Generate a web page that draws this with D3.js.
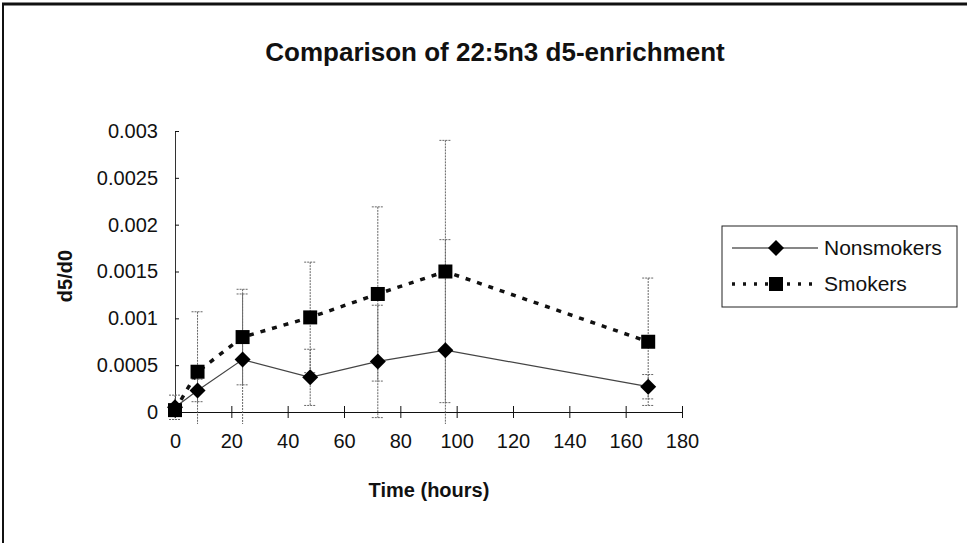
<!DOCTYPE html>
<html>
<head>
<meta charset="utf-8">
<script src="https://cdn.jsdelivr.net/npm/d3@7"></script>
<style>
  body { margin: 0; background: #fff; }
  svg text { font-family: "Liberation Sans", Arial, sans-serif; fill: #111; }
</style>
</head>
<body>
<svg width="967" height="543"></svg>
<script>
// data
const hours = [0, 8, 24, 48, 72, 96, 168];
const nonsmokers = [0.00005, 0.00023, 0.00056, 0.00037, 0.00054, 0.00066, 0.00027];
const nonsmokersErr = [0.00013, 0.00012, 0.0007, 0.0003, 0.0006, 0.00118, 0.00013];
const smokers = [0.00002, 0.00043, 0.0008, 0.00101, 0.00126, 0.0015, 0.00075];
const smokersErr = [0.00003, 0.00064, 0.00051, 0.00059, 0.00093, 0.0014, 0.00068];
const xTicks = [0, 20, 40, 60, 80, 100, 120, 140, 160, 180];
const yTicks = [0, 0.0005, 0.001, 0.0015, 0.002, 0.0025, 0.003];

const svg = d3.select("svg");

// frame of the scanned chart (top and left edges only)
svg.append("line").attr("x1", 2).attr("x2", 967).attr("y1", 4).attr("y2", 4)
    .attr("stroke", "#111").attr("stroke-width", 3);
svg.append("line").attr("x1", 3).attr("x2", 3).attr("y1", 3).attr("y2", 543)
    .attr("stroke", "#111").attr("stroke-width", 2);

const xScale = d3.scaleLinear().domain([0, 180]).range([175, 682]);
const yScale = d3.scaleLinear().domain([0, 0.003]).range([412, 131]);

// x axis, ticks crossing the line
const xAxis = svg.append("g")
    .attr("transform", `translate(0, ${yScale(0)})`)
    .call(d3.axisBottom(xScale).tickValues(xTicks).tickSize(6).tickSizeOuter(0).tickPadding(16));
xAxis.selectAll(".tick line").attr("y1", -6).attr("stroke", "#111");
xAxis.select(".domain").attr("stroke", "#111");
xAxis.selectAll("text").attr("font-size", 20).attr("fill", "#111");

const yAxis = svg.append("g")
    .attr("transform", `translate(${xScale(0)}, 0)`)
    .call(d3.axisLeft(yScale).tickValues(yTicks).tickSize(7).tickSizeOuter(0).tickPadding(10)
        .tickFormat(d => d === 0 ? "0" : String(+d.toFixed(4))));
yAxis.selectAll(".tick line").attr("x2", 4).attr("stroke", "#111");
yAxis.select(".domain").attr("stroke", "#333");
yAxis.selectAll("text").attr("font-size", 20).attr("fill", "#111");

// error bars, cut a little below the x axis
const series = [
    { name: "Nonsmokers", values: nonsmokers, err: nonsmokersErr },
    { name: "Smokers", values: smokers, err: smokersErr }
];
const floorY = yScale(0) + 12;

series.forEach(s => {
    const bars = svg.append("g").attr("stroke", "#666").attr("stroke-width", 1);
    hours.forEach((h, i) => {
        const x = xScale(h);
        const top = yScale(s.values[i] + s.err[i]);
        const bottomRaw = yScale(s.values[i] - s.err[i]);
        const bottom = Math.min(bottomRaw, floorY);
        bars.append("line").attr("x1", x).attr("x2", x).attr("y1", top).attr("y2", bottom)
            .attr("stroke-dasharray", "2,1");
        bars.append("line").attr("x1", x - 6).attr("x2", x + 6).attr("y1", top).attr("y2", top)
            .attr("stroke-dasharray", "2,1");
        if (bottomRaw <= floorY) {
            bars.append("line").attr("x1", x - 6).attr("x2", x + 6).attr("y1", bottom).attr("y2", bottom)
                .attr("stroke-dasharray", "2,1");
        }
    });
});

const line = d3.line().x((d, i) => xScale(hours[i])).y(d => yScale(d));

svg.append("path").datum(nonsmokers)
    .attr("d", line).attr("fill", "none").attr("stroke", "#444").attr("stroke-width", 1.2);

svg.append("path").datum(smokers)
    .attr("d", line).attr("fill", "none").attr("stroke", "#111")
    .attr("stroke-width", 3.5).attr("stroke-dasharray", "5,7");

const diamond = r => `M0,${-r}L${r},0L0,${r}L${-r},0Z`;

svg.append("g").selectAll("path")
    .data(nonsmokers)
    .enter()
    .append("path")
    .attr("d", diamond(8))
    .attr("transform", (d, i) => `translate(${xScale(hours[i])}, ${yScale(d)})`)
    .attr("fill", "#000");

svg.append("g").selectAll("rect")
    .data(smokers)
    .enter()
    .append("rect")
    .attr("x", (d, i) => xScale(hours[i]) - 7)
    .attr("y", d => yScale(d) - 7)
    .attr("width", 14)
    .attr("height", 14)
    .attr("fill", "#000");

// titles
svg.append("text")
    .attr("x", 495).attr("y", 61)
    .attr("text-anchor", "middle")
    .attr("font-size", 26).attr("font-weight", "bold")
    .text("Comparison of 22:5n3 d5-enrichment");

svg.append("text")
    .attr("x", 429).attr("y", 497)
    .attr("text-anchor", "middle")
    .attr("font-size", 20).attr("font-weight", "bold")
    .text("Time (hours)");

svg.append("text")
    .attr("transform", "translate(72, 276) rotate(-90)")
    .attr("text-anchor", "middle")
    .attr("font-size", 20).attr("font-weight", "bold")
    .text("d5/d0");

// legend
const legend = svg.append("g").attr("transform", "translate(722, 226)");
legend.append("rect").attr("width", 235).attr("height", 81)
    .attr("fill", "#fff").attr("stroke", "#222").attr("stroke-width", 1);

const legendRows = legend.selectAll("g")
    .data(series)
    .enter()
    .append("g")
    .attr("transform", (d, i) => `translate(0, ${22 + i * 36})`);

legendRows.append("line")
    .attr("x1", 10).attr("x2", 96)
    .attr("stroke", "#111")
    .attr("stroke-width", (d, i) => i === 0 ? 1.2 : 3.5)
    .attr("stroke-dasharray", (d, i) => i === 0 ? null : "3,8");

legendRows.append("path")
    .attr("d", (d, i) => i === 0 ? diamond(8) : "M-7,-7H7V7H-7Z")
    .attr("transform", "translate(54, 0)")
    .attr("fill", "#000");

legendRows.append("text")
    .attr("x", 102).attr("dy", "0.35em")
    .attr("font-size", 21)
    .text(d => d.name);
</script>
</body>
</html>
